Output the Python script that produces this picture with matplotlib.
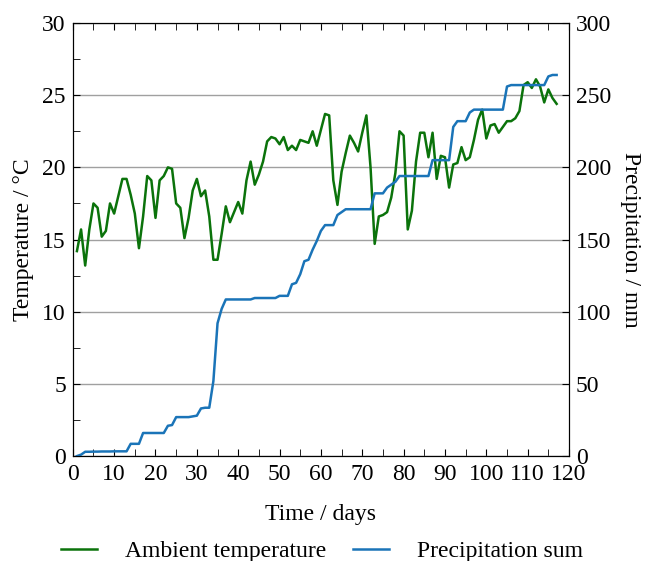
import matplotlib
matplotlib.use("Agg")
import matplotlib.pyplot as plt
from matplotlib.ticker import MultipleLocator

plt.rcParams['font.family'] = ['Liberation Serif', 'DejaVu Serif']
plt.rcParams['mathtext.fontset'] = 'stix'

# daily ambient temperature, degC
days = list(range(1, 118))
temperature = [
    14.2, 15.7, 13.2, 15.7, 17.5, 17.2, 15.2, 15.6, 17.5, 16.8,
    18.0, 19.2, 19.2, 18.1, 16.8, 14.4, 16.6, 19.4, 19.1, 16.5,
    19.1, 19.4, 20.0, 19.9, 17.5, 17.2, 15.1, 16.5, 18.4, 19.2,
    18.0, 18.4, 16.6, 13.6, 13.6, 15.4, 17.3, 16.2, 16.9, 17.6,
    16.8, 19.1, 20.4, 18.8, 19.5, 20.4, 21.8, 22.1, 22.0, 21.6,
    22.1, 21.2, 21.5, 21.2, 21.9, 21.8, 21.7, 22.5, 21.5, 22.6,
    23.7, 23.6, 19.1, 17.4, 19.7, 21.0, 22.2, 21.7, 21.1, 22.4,
    23.6, 20.0, 14.7, 16.6, 16.7, 16.9, 17.9, 19.6, 22.5, 22.2,
    15.7, 17.0, 20.4, 22.4, 22.4, 20.7, 22.4, 19.2, 20.8, 20.7,
    18.6, 20.2, 20.3, 21.4, 20.5, 20.7, 21.9, 23.3, 24.0, 22.0,
    22.9, 23.0, 22.4, 22.8, 23.2, 23.2, 23.4, 23.9, 25.7, 25.9,
    25.5, 26.1, 25.6, 24.5, 25.4, 24.8, 24.4,
]

# cumulative precipitation, mm
precipitation = [
    0, 1, 3, 3, 3.1, 3.1, 3.2, 3.2, 3.2, 3.3,
    3.3, 3.3, 3.3, 8.5, 8.5, 8.5, 16, 16, 16, 16,
    16, 16, 21, 21.5, 27, 27, 27, 27, 27.5, 28,
    33, 33.5, 33.5, 52, 92, 102, 108.5, 108.5, 108.5, 108.5,
    108.5, 108.5, 108.5, 109.5, 109.5, 109.5, 109.5, 109.5, 109.5, 111,
    111, 111, 119, 120, 126, 135, 136, 143, 149, 156,
    160, 160, 160, 167, 169, 171, 171, 171, 171, 171,
    171, 171, 182, 182, 182, 186, 188, 190, 194, 194,
    194, 194, 194, 194, 194, 194, 205, 205, 205, 205,
    205, 228, 232, 232, 232, 238, 240, 240, 240, 240,
    240, 240, 240, 240, 256, 257, 257, 257, 257, 257,
    257, 257, 257, 257, 263, 264, 264,
]

fs = 17

fig = plt.figure(figsize=(6.47, 5.61), dpi=100)
ax = fig.add_axes([0.1125, 0.187, 0.767, 0.772])
ax2 = ax.twinx()

l1, = ax.plot(days, temperature, color='#0b730b', lw=1.8, label='Ambient temperature')
l2, = ax2.plot(days, precipitation, color='#1a74b8', lw=1.8, label='Precipitation sum')

ax.set_xlim(0, 120)
ax.set_ylim(0, 30)
ax2.set_ylim(0, 300)

ax.xaxis.set_major_locator(MultipleLocator(10))
ax.xaxis.set_minor_locator(MultipleLocator(5))
ax.yaxis.set_major_locator(MultipleLocator(5))
ax.yaxis.set_minor_locator(MultipleLocator(2.5))
ax2.yaxis.set_major_locator(MultipleLocator(50))

ax.tick_params(which='both', direction='in', labelsize=fs, top=True, length=5)
ax.tick_params(axis='x', which='both', pad=6)
ax.tick_params(axis='y', which='both', pad=5)
ax2.tick_params(direction='in', labelsize=fs, length=5, pad=5)

ax.grid(axis='y', which='major', color='#a0a0a0', lw=1)
ax.set_axisbelow(True)

ax.set_xlabel('Time / days', fontsize=fs)
ax.set_ylabel('Temperature / °C', fontsize=fs)
ax2.set_ylabel('Precipitation / mm', fontsize=fs, rotation=270)
ax.xaxis.set_label_coords(0.5, -0.110)
ax.yaxis.set_label_coords(-0.079, 0.5)
ax2.yaxis.set_label_coords(1.145, 0.5)

fig.legend(handles=[l1, l2], loc='center', bbox_to_anchor=(0.498, 0.017),
           ncol=2, frameon=False, fontsize=fs, handlelength=1.5,
           handletextpad=1.2, columnspacing=1.15)

fig.savefig('out.png', dpi=100)
